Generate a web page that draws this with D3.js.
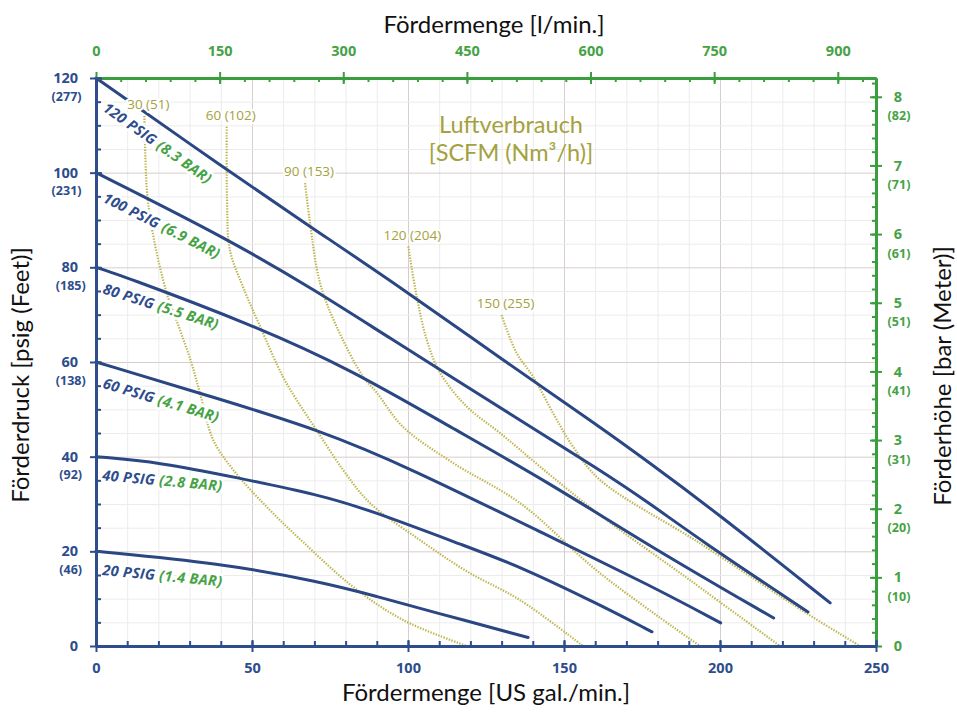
<!DOCTYPE html>
<html>
<head>
<meta charset="utf-8">
<script src="https://cdn.jsdelivr.net/npm/d3@7"></script>
<style>
    body { margin: 0; background: #fff; }
    svg { display: block; }
    .tick text { font-family: "Open Sans", sans-serif; font-weight: 700; }
</style>
</head>
<body>
<svg id="chart" width="957" height="713"></svg>
<script>
// ---- data ----
// pump curves: [US gal/min, psig]
var curve120 = [[0, 120], [41.9, 100.6], [68.6, 88.6], [97.4, 75.9], [130.4, 60.4], [161.5, 46.3], [177.6, 38.6], [197.9, 28.7], [235.3, 9.1]];
var curve100 = [[0, 100], [42.9, 85.8], [71.8, 74.5], [90, 66.8], [135.9, 47.7], [161.5, 37.2], [177.6, 30.1], [193.6, 22.4], [228.2, 7.2]];
var curve80 = [[0, 80], [7.7, 78.4], [50.4, 67.8], [81.4, 58.5], [113.5, 46.3], [145.5, 34.4], [177.6, 21.0], [217.2, 5.9]];
var curve60 = [[0, 60], [38, 52.5], [71.8, 45.6], [100, 37.8], [145.5, 23.1], [177.6, 12.8], [200.2, 4.9]];
var curve40 = [[0, 40], [20.5, 38.8], [45, 35.6], [71.8, 31.9], [87.8, 28.7], [118.8, 21], [135.9, 16.8], [161.5, 8.7], [178.2, 3.0]];
var curve20 = [[0, 20], [39.7, 17.5], [71.8, 13.6], [90, 10.5], [108, 7.2], [138.5, 1.8]];

var pressurePsig = [120, 100, 80, 60, 40, 20];
var pressureBar = ["8.3", "6.9", "5.5", "4.1", "2.8", "1.4"];

// air consumption curves (dotted): [US gal/min, psig]
var air30 = [[15.5, 112], [15.8, 104], [16.4, 95.6], [18.4, 86.5], [22.7, 74.5], [26.9, 66.8], [30.5, 60], [33.5, 53], [37.6, 43.5], [44, 37.2], [54.7, 29.4], [66.3, 22], [82.4, 12.5], [98.4, 5.5], [118.8, 0]];
var air60 = [[41.9, 109.7], [42.0, 94.2], [42.9, 83.7], [47.1, 75.9], [52.6, 67.5], [59.9, 56.9], [64.3, 52.0], [70.7, 45.6], [79.2, 37.2], [87.8, 30.2], [103.8, 22.4], [118.8, 15.8], [135.9, 9.7], [156.1, 0]];
var air90 = [[67.0, 97.8], [68.6, 89.4], [71.8, 76.7], [77.1, 67.5], [85.6, 56.9], [90.0, 53.5], [98.4, 46.3], [114.4, 38.7], [135.9, 30.2], [161.5, 15.4], [193.6, 0]];
var air120 = [[100.1, 84.4], [102.8, 73.8], [106.0, 64.7], [110.3, 57.7], [118.8, 50.6], [129.5, 45.0], [142.3, 37.9], [161.5, 27.7], [190.4, 13.9], [219.2, 0]];
var air150 = [[130.0, 69.9], [134.8, 61.9], [140.1, 56.9], [146.5, 49.2], [152.9, 42.1], [161.5, 35.1], [193.6, 21.7], [227.8, 6.9], [244.9, 0]];
var airLabels = ["30 (51)", "60 (102)", "90 (153)", "120 (204)", "150 (255)"];

// axis ticks
var gpmTicks = [0, 50, 100, 150, 200, 250];
var lpmTicks = [0, 150, 300, 450, 600, 750, 900];
var psigTicks = [0, 20, 40, 60, 80, 100, 120];
var feetLabels = ["", "(46)", "(92)", "(138)", "(185)", "(231)", "(277)"];
var barTicks = [0, 1, 2, 3, 4, 5, 6, 7, 8];
var meterLabels = ["", "(10)", "(20)", "(31)", "(41)", "(51)", "(61)", "(71)", "(82)"];

var LPM_PER_GPM = 3.785411784;
var PSI_PER_BAR = 14.5038;

// ---- colours ----
var BLUE = "#2d4d8c";
var CURVE = "#2a4683";
var GREEN = "#3a9d3e";
var GREEN_TXT = "#45a345";
var OLIVE = "#a5a13e";
var DOTS = "#bdb54c";

var svg = d3.select("#chart");

var x = d3.scaleLinear().domain([0, 250]).range([96, 876]);
var y = d3.scaleLinear().domain([0, 120]).range([646, 78]);
var xTop = d3.scaleLinear().domain([0, 250 * LPM_PER_GPM]).range(x.range());
var yRight = d3.scaleLinear().domain([0, 120 / PSI_PER_BAR]).range(y.range());

var plotH = y(0) - y(120);
var plotW = x(250) - x(0);

// grid
svg.append("g")
    .attr("transform", "translate(0," + y(0) + ")")
    .call(d3.axisBottom(x).tickValues(d3.range(0, 251, 10)).tickSize(-plotH).tickFormat(""))
    .call(function(g) {
        g.select(".domain").remove();
        g.selectAll("line").attr("stroke", function(d) { return d % 50 === 0 ? "#d8cdcd" : "#ececec"; });
    });

svg.append("g")
    .attr("transform", "translate(" + x(0) + ",0)")
    .call(d3.axisLeft(y).tickValues(d3.range(0, 121, 5)).tickSize(-plotW).tickFormat(""))
    .call(function(g) {
        g.select(".domain").remove();
        g.selectAll("line").attr("stroke", function(d) { return d % 20 === 0 ? "#d8cdcd" : "#ececec"; });
    });

// air consumption curves
var airLine = d3.line()
    .x(function(d) { return x(d[0]); })
    .y(function(d) { return y(d[1]); })
    .curve(d3.curveCatmullRom.alpha(0.5));

var airCurves = [air30, air60, air90, air120, air150];

svg.append("g").selectAll("path")
    .data(airCurves)
    .enter().append("path")
    .attr("d", airLine)
    .attr("fill", "none")
    .attr("stroke", DOTS)
    .attr("stroke-width", 2.2)
    .attr("stroke-dasharray", "1.4 1.4");

// pump curves
var pumpLine = d3.line()
    .x(function(d) { return x(d[0]); })
    .y(function(d) { return y(d[1]); })
    .curve(d3.curveBasis);

var pumpCurves = [curve120, curve100, curve80, curve60, curve40, curve20];

svg.append("g").selectAll("path")
    .data(pumpCurves)
    .enter().append("path")
    .attr("d", pumpLine)
    .attr("fill", "none")
    .attr("stroke", CURVE)
    .attr("stroke-width", 3)
    .attr("stroke-linecap", "round");

// pump curve labels, rotated along the first segment
pumpCurves.forEach(function(pts, i) {
    var x0 = x(pts[0][0]), y0 = y(pts[0][1]);
    var a = Math.atan2(y(pts[1][1]) - y0, x(pts[1][0]) - x0);
    var base = 23;
    var lx = (6 + base * Math.sin(a)) / Math.cos(a);
    var t = svg.append("text")
        .attr("transform", "translate(" + x0 + "," + y0 + ")rotate(" + (a * 180 / Math.PI) + ")")
        .attr("x", lx)
        .attr("y", base)
        .attr("font-family", "'Open Sans', sans-serif")
        .attr("font-size", 14.5)
        .attr("font-weight", 700)
        .attr("font-style", "italic")
        .attr("letter-spacing", 0.3)
        .attr("stroke", "#fff")
        .attr("stroke-width", 5)
        .attr("stroke-linejoin", "round")
        .attr("paint-order", "stroke");
    t.append("tspan").attr("fill", BLUE).text(pressurePsig[i] + " PSIG ");
    t.append("tspan").attr("fill", GREEN_TXT).text("(" + pressureBar[i] + " BAR)");
});

// air curve labels
svg.append("g").selectAll("text")
    .data(airCurves)
    .enter().append("text")
    .attr("x", function(d) { return x(d[0][0]) + 4; })
    .attr("y", function(d) { return y(d[0][1]) - 7; })
    .attr("text-anchor", "middle")
    .attr("font-family", "'Open Sans', sans-serif")
    .attr("font-size", 13.5)
    .attr("fill", OLIVE)
    .attr("stroke", "#fff")
    .attr("stroke-width", 4)
    .attr("paint-order", "stroke")
    .text(function(d, i) { return airLabels[i]; });

// legend title for air curves
svg.append("text")
    .attr("x", 511).attr("y", 133)
    .attr("text-anchor", "middle")
    .attr("font-family", "Lato, sans-serif")
    .attr("font-size", 23.5)
    .attr("fill", OLIVE)
    .text("Luftverbrauch");
svg.append("text")
    .attr("x", 511).attr("y", 161)
    .attr("text-anchor", "middle")
    .attr("font-family", "Lato, sans-serif")
    .attr("font-size", 23.5)
    .attr("fill", OLIVE)
    .text("[SCFM (Nm³/h)]");

// ---- axes ----
function styleDomain(g, color) {
    g.select(".domain").attr("stroke", color).attr("stroke-width", 3);
    g.selectAll(".tick line").attr("stroke", color).attr("stroke-width", 2);
}

// top (l/min)
svg.append("g")
    .attr("transform", "translate(0," + y(120) + ")")
    .call(d3.axisTop(xTop).tickValues(d3.range(0, 946, 30)).tickSize(-4).tickSizeOuter(0).tickFormat(""))
    .call(function(g) { styleDomain(g, GREEN); });
svg.append("g")
    .attr("transform", "translate(0," + y(120) + ")")
    .call(d3.axisTop(xTop).tickValues(lpmTicks).tickSize(6).tickSizeOuter(0))
    .call(function(g) {
        styleDomain(g, GREEN);
        g.selectAll(".tick line").attr("y2", 6).attr("y1", -6);
        g.selectAll(".tick text").attr("y", -22).attr("fill", GREEN_TXT).attr("font-size", 14.5);
    });

// right (bar)
svg.append("g")
    .attr("transform", "translate(" + x(250) + ",0)")
    .call(d3.axisRight(yRight).tickValues(d3.range(0, 8.27, 0.2)).tickSize(-4).tickSizeOuter(0).tickFormat(""))
    .call(function(g) { styleDomain(g, GREEN); });
svg.append("g")
    .attr("transform", "translate(" + x(250) + ",0)")
    .call(d3.axisRight(yRight).tickValues(barTicks).tickSize(6).tickSizeOuter(0))
    .call(function(g) {
        styleDomain(g, GREEN);
        g.selectAll(".tick line").attr("x1", -6);
        g.selectAll(".tick text")
            .attr("x", 22).attr("text-anchor", "middle")
            .attr("fill", GREEN_TXT).attr("font-size", 14.5);
        g.selectAll(".tick").append("text")
            .attr("x", 23).attr("y", 19).attr("dy", "0.32em")
            .attr("text-anchor", "middle")
            .attr("fill", GREEN_TXT).attr("font-size", 12.5)
            .text(function(d) { return meterLabels[barTicks.indexOf(d)]; });
    });

// bottom (US gal/min)
svg.append("g")
    .attr("transform", "translate(0," + y(0) + ")")
    .call(d3.axisBottom(x).tickValues(d3.range(0, 251, 10)).tickSize(-5).tickSizeOuter(0).tickFormat(""))
    .call(function(g) { styleDomain(g, BLUE); });
svg.append("g")
    .attr("transform", "translate(0," + y(0) + ")")
    .call(d3.axisBottom(x).tickValues(gpmTicks).tickSize(6).tickSizeOuter(0))
    .call(function(g) {
        styleDomain(g, BLUE);
        g.selectAll(".tick line").attr("y1", -6);
        g.selectAll(".tick text").attr("y", 17).attr("fill", BLUE).attr("font-size", 14.5);
    });

// left (psig)
svg.append("g")
    .attr("transform", "translate(" + x(0) + ",0)")
    .call(d3.axisLeft(y).tickValues(d3.range(0, 121, 5)).tickSize(-5).tickSizeOuter(0).tickFormat(""))
    .call(function(g) { styleDomain(g, BLUE); });
svg.append("g")
    .attr("transform", "translate(" + x(0) + ",0)")
    .call(d3.axisLeft(y).tickValues(psigTicks).tickSize(6).tickSizeOuter(0))
    .call(function(g) {
        styleDomain(g, BLUE);
        g.selectAll(".tick line").attr("x1", 6);
        g.selectAll(".tick text").attr("x", -18).attr("fill", BLUE).attr("font-size", 14.5)
            .each(function(d) {
                var bb = this.getBBox();
                d3.select(this.parentNode).append("text")
                    .attr("x", bb.x + bb.width / 2 + 1).attr("y", 18).attr("dy", "0.32em")
                    .attr("text-anchor", "middle")
                    .attr("fill", BLUE).attr("font-size", 12.5)
                    .text(feetLabels[psigTicks.indexOf(d)]);
            });
    });

// axis titles
function title(tx, ty, rot, str) {
    svg.append("text")
        .attr("transform", "translate(" + tx + "," + ty + ")rotate(" + rot + ")")
        .attr("text-anchor", "middle")
        .attr("font-family", "Lato, sans-serif")
        .attr("font-size", 24)
        .attr("fill", "#111")
        .text(str);
}
title(494, 33, 0, "Fördermenge [l/min.]");
title(486, 701, 0, "Fördermenge [US gal./min.]");
title(29, 375, -90, "Förderdruck [psig (Feet)]");
title(951, 376, -90, "Förderhöhe [bar (Meter)]");
</script>
</body>
</html>
